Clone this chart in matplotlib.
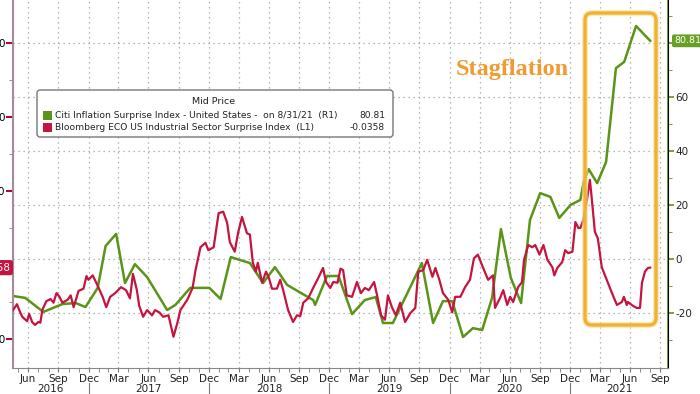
import pandas as pd
import numpy as np
import matplotlib
matplotlib.use("Agg")
import matplotlib.pyplot as plt
import matplotlib.dates as mdates
from matplotlib.patches import FancyBboxPatch, Rectangle
from matplotlib.transforms import blended_transform_factory

# Citi Inflation Surprise Index - United States (R1)
citi_dates = ['2016-05-15', '2016-06-21', '2016-08-15', '2016-10-12', '2016-11-21', '2016-12-21',
              '2017-01-27', '2017-02-20', '2017-03-24', '2017-04-20', '2017-05-20', '2017-06-26',
              '2017-08-26', '2017-09-20', '2017-11-04', '2018-01-01', '2018-02-04', '2018-03-07',
              '2018-05-04', '2018-06-13', '2018-07-19', '2018-08-25', '2018-11-12', '2018-11-18',
              '2018-12-24', '2019-01-28', '2019-03-10', '2019-04-18', '2019-05-21', '2019-06-12',
              '2019-07-12', '2019-10-08', '2019-11-11', '2019-12-11', '2020-01-08', '2020-02-10',
              '2020-03-11', '2020-04-08', '2020-05-08', '2020-06-04', '2020-07-04', '2020-08-04',
              '2020-08-31', '2020-10-01', '2020-11-01', '2020-11-28', '2021-01-01', '2021-01-31',
              '2021-02-10', '2021-02-25', '2021-03-23', '2021-04-19', '2021-05-19', '2021-06-13',
              '2021-07-19', '2021-08-31']
citi_vals = [-13.7, -14.4, -19.6, -16.7, -16.3, -17.8,
             -10.7, 4.8, 9.3, -8.9, -1.9, -6.7,
             -18.9, -17.0, -10.7, -10.7, -14.8, 0.7,
             -1.5, -8.9, -3.0, -9.6, -15.2, -17.0,
             -6.3, -6.3, -20.4, -15.2, -14.1, -23.7,
             -23.7, -1.5, -23.7, -15.6, -15.6, -28.9,
             -25.6, -26.3, -14.4, 11.1, -7.0, -16.3,
             14.4, 24.4, 23.0, 15.2, 20.0, 21.9,
             28.5, 33.3, 28.1, 35.9, 70.7, 73.0,
             86.3, 80.81]

# Bloomberg ECO US Industrial Sector Surprise Index (L1)
eco_dates = ['2016-05-15', '2016-05-27', '2016-06-03', '2016-06-12', '2016-06-27', '2016-07-03',
             '2016-07-12', '2016-07-21', '2016-07-31', '2016-08-06', '2016-08-12', '2016-08-24',
             '2016-09-06', '2016-09-15', '2016-09-24', '2016-10-03', '2016-10-12', '2016-10-28',
             '2016-11-06', '2016-11-15', '2016-11-30', '2016-12-15', '2016-12-24', '2016-12-30',
             '2017-01-12', '2017-01-27', '2017-02-11', '2017-02-22', '2017-03-06', '2017-03-21',
             '2017-04-08', '2017-04-23', '2017-05-05', '2017-05-14', '2017-05-26', '2017-06-02',
             '2017-06-14', '2017-06-26', '2017-07-11', '2017-07-20', '2017-08-02', '2017-08-14',
             '2017-08-30', '2017-09-14', '2017-09-26', '2017-10-05', '2017-10-26', '2017-11-11',
             '2017-11-20', '2017-12-05', '2017-12-20', '2017-12-29', '2018-01-14', '2018-01-29',
             '2018-02-12', '2018-02-24', '2018-03-04', '2018-03-19', '2018-03-29', '2018-04-10',
             '2018-04-25', '2018-05-04', '2018-05-13', '2018-05-22', '2018-05-28', '2018-06-10',
             '2018-06-22', '2018-07-01', '2018-07-10', '2018-07-25', '2018-08-04', '2018-08-13',
             '2018-08-28', '2018-09-12', '2018-09-24', '2018-10-04', '2018-10-13', '2018-10-28',
             '2018-11-12', '2018-11-27', '2018-12-12', '2018-12-21', '2019-01-03', '2019-01-12',
             '2019-01-25', '2019-02-03', '2019-02-11', '2019-02-22', '2019-03-10', '2019-03-25',
             '2019-04-06', '2019-04-18', '2019-04-30', '2019-05-16', '2019-05-25', '2019-06-06',
             '2019-06-18', '2019-06-27', '2019-07-09', '2019-07-21', '2019-08-03', '2019-08-18',
             '2019-09-03', '2019-09-18', '2019-09-27', '2019-10-12', '2019-10-24', '2019-11-09',
             '2019-11-18', '2019-11-30', '2019-12-11', '2019-12-27', '2020-01-08', '2020-01-17',
             '2020-02-02', '2020-02-16', '2020-03-02', '2020-03-14', '2020-03-26', '2020-04-11',
             '2020-04-26', '2020-05-11', '2020-05-17', '2020-06-01', '2020-06-11', '2020-06-23',
             '2020-07-02', '2020-07-11', '2020-07-26', '2020-08-07', '2020-08-13', '2020-08-26',
             '2020-09-07', '2020-09-16', '2020-09-29', '2020-10-11', '2020-10-23', '2020-11-07',
             '2020-11-13', '2020-11-22', '2020-12-07', '2020-12-16', '2020-12-25', '2021-01-07',
             '2021-01-16', '2021-01-25', '2021-01-31', '2021-02-09', '2021-02-20', '2021-03-01',
             '2021-03-07', '2021-03-16', '2021-03-25', '2021-04-06', '2021-04-21', '2021-05-07',
             '2021-05-22', '2021-06-06', '2021-06-12', '2021-06-21', '2021-06-24', '2021-07-09',
             '2021-07-21', '2021-07-31', '2021-08-06', '2021-08-15', '2021-08-24', '2021-08-31']
eco_vals = [-0.61, -0.53, -0.61, -0.70, -0.76, -0.66,
            -0.77, -0.81, -0.77, -0.78, -0.61, -0.49,
            -0.46, -0.51, -0.38, -0.43, -0.51, -0.47,
            -0.41, -0.57, -0.35, -0.32, -0.15, -0.20,
            -0.14, -0.28, -0.43, -0.57, -0.43, -0.38,
            -0.30, -0.34, -0.45, -0.12, -0.34, -0.55,
            -0.70, -0.61, -0.68, -0.61, -0.64, -0.70,
            -0.68, -0.97, -0.78, -0.61, -0.47, -0.31,
            -0.07, 0.24, 0.30, 0.20, 0.24, 0.70,
            0.72, 0.57, 0.31, 0.18, 0.43, 0.65,
            0.43, 0.41, 0.03, -0.09, 0.03, -0.24,
            -0.09, -0.18, -0.32, -0.32, -0.20, -0.34,
            -0.61, -0.77, -0.68, -0.69, -0.51, -0.45,
            -0.31, -0.18, -0.04, -0.23, -0.31, -0.23,
            -0.24, -0.05, -0.07, -0.41, -0.43, -0.23,
            -0.38, -0.31, -0.34, -0.23, -0.41, -0.68,
            -0.74, -0.41, -0.57, -0.68, -0.51, -0.77,
            -0.65, -0.58, -0.09, -0.07, 0.07, -0.16,
            -0.04, -0.20, -0.38, -0.47, -0.64, -0.43,
            -0.43, -0.30, -0.20, 0.09, 0.14, -0.04,
            -0.20, -0.14, -0.58, -0.45, -0.34, -0.54,
            -0.43, -0.50, -0.30, -0.23, 0.07, 0.27,
            0.24, 0.27, 0.14, 0.27, 0.07, -0.03,
            -0.14, -0.04, 0.04, 0.20, 0.16, 0.18,
            0.58, 0.50, 0.50, 0.61, 0.88, 1.15,
            0.88, 0.45, 0.36, -0.03, -0.20, -0.38,
            -0.54, -0.50, -0.43, -0.54, -0.50, -0.55,
            -0.58, -0.58, -0.24, -0.09, -0.04, -0.0358]

left_ticks = [-1, 0, 1, 2, 3]
right_ticks = [-20, 0, 20, 40, 60, 80]
years = [2016, 2017, 2018, 2019, 2020, 2021]

GREEN = '#5a9418'
RED = '#c41440'
ORANGE = '#f0b030'
W, H = 700, 394

plt.rcParams['font.family'] = ['DejaVu Sans']

fig = plt.figure(figsize=(W / 100, H / 100), dpi=100)
ax = fig.add_axes([13 / W, (H - 368) / H, (668 - 13) / W, 368 / H])
ax2 = ax.twinx()

citi_x = pd.to_datetime(citi_dates)
eco_x = pd.to_datetime(eco_dates)

ax2.plot(citi_x, citi_vals, color=GREEN, lw=1.8, zorder=3)
ax.plot(eco_x, eco_vals, color=RED, lw=1.6, zorder=3)
ax.set_zorder(ax2.get_zorder() + 1)
ax.patch.set_visible(False)

ax.set_xlim(pd.Timestamp('2016-05-15'), pd.Timestamp('2021-10-24'))
ax.set_ylim(-1.392, 3.581)
ax2.set_ylim(-40.37, 95.93)

# x axis: quarter labels at month ends, monthly minor ticks
qtr = pd.date_range('2016-06-30', '2021-09-30', freq='QE')
ax.set_xticks(qtr)
ax.xaxis.set_major_formatter(mdates.DateFormatter('%b'))
ax.set_xticks(pd.date_range('2016-05-31', '2021-09-30', freq='ME'), minor=True)
ax.tick_params(axis='x', which='both', direction='out', length=3, color='#777777',
               labelsize=7.5, pad=1.5, labelcolor='#222222')

# left axis (the 0 label sits under the last-value tag)
ax.set_yticks(left_ticks)
ax.set_yticklabels(['' if t == 0 else '%.1f' % t for t in left_ticks])
ax.set_yticks([-0.5, 0.5, 1.5, 2.5], minor=True)
ax.tick_params(axis='y', which='major', direction='out', length=5, width=1.5,
               color='#a01030', labelsize=7.5, pad=0.5)
ax.tick_params(axis='y', which='minor', direction='out', length=3, color='#a07080')

# right axis (the 80 label sits under the last-value tag)
ax2.set_yticks(right_ticks)
ax2.set_yticklabels(['' if t == 80 else str(t) for t in right_ticks])
ax2.set_yticks(np.arange(-30, 95, 20), minor=True)
ax2.tick_params(axis='y', which='major', direction='out', length=4, width=1.2,
                color=GREEN, labelsize=7.5, pad=1.5, labelcolor='#222222')
ax2.tick_params(axis='y', which='minor', direction='out', length=3, color=GREEN)

for a in (ax, ax2):
    a.spines['top'].set_visible(False)
ax.spines['left'].set_color('#a8889a')
ax.spines['left'].set_linewidth(1.5)
ax.spines['bottom'].set_color('#888888')
ax2.spines['right'].set_color(GREEN)
ax2.spines['right'].set_linewidth(1.2)
ax2.spines['left'].set_visible(False)
ax2.spines['bottom'].set_visible(False)

# dotted grid
for t in right_ticks:
    ax2.axhline(t, color='#a0a0a0', lw=0.9, ls=(0, (1, 3)), zorder=1)
for q in qtr:
    ax2.axvline(q, color='#a0a0a0', lw=0.9, ls=(0, (1, 3)), zorder=1)

# year labels and separators
tr = blended_transform_factory(ax.transData, ax.transAxes)
x0, x1 = ax.get_xlim()
for y in years:
    a = max(mdates.date2num(pd.Timestamp(f'{y - 1}-12-31')), x0)
    b = min(mdates.date2num(pd.Timestamp(f'{y}-12-31')), x1)
    ax.text((a + b) / 2, -0.057, str(y), transform=tr, ha='center', va='center',
            fontsize=7.5, color='#222222')
    if b < x1:
        ax.plot([b, b], [-0.042, -0.08], transform=tr, color='#777777', lw=0.8, clip_on=False)

# last value tags
ax.text(-0.004, eco_vals[-1], '%.4f' % eco_vals[-1],
        transform=blended_transform_factory(ax.transAxes, ax.transData),
        ha='right', va='center', fontsize=7.5, color='white',
        bbox=dict(boxstyle='round,pad=0.25', fc=RED, ec='none'), clip_on=False, zorder=6)
ax2.text(1.009, citi_vals[-1], '%.2f' % citi_vals[-1],
         transform=blended_transform_factory(ax2.transAxes, ax2.transData),
         ha='left', va='center', fontsize=6.8, color='white',
         bbox=dict(boxstyle='round,pad=0.2', fc='#66a025', ec='none'), clip_on=False, zorder=6)

# annotation box and label (pixel positions)
px = fig.dpi_scale_trans
fig.patches.append(FancyBboxPatch((585 / 100, (H - 325) / 100), 71 / 100, 312 / 100,
                                  boxstyle='round,pad=0,rounding_size=0.07', transform=px,
                                  fc='none', ec='#f8dc98', lw=4.5, alpha=0.6, zorder=5))
fig.patches.append(FancyBboxPatch((585 / 100, (H - 325) / 100), 71 / 100, 312 / 100,
                                  boxstyle='round,pad=0,rounding_size=0.07', transform=px,
                                  fc='none', ec=ORANGE, lw=2.4, zorder=5))
fig.text(512 / 100, (H - 70) / 100, 'Stagflation', transform=px, ha='center', va='center',
         fontsize=17.5, fontweight='bold', family='Liberation Serif', color='#f09a30')

# legend box
fig.patches.append(FancyBboxPatch((37 / 100, (H - 137) / 100), 356 / 100, 47 / 100,
                                  boxstyle='round,pad=0,rounding_size=0.03', transform=px,
                                  fc='white', ec='#777777', lw=1, zorder=4))
fig.text(214 / 100, (H - 102) / 100, 'Mid Price', transform=px, ha='center', va='center',
         fontsize=6.8, color='#222222', zorder=5)
fig.patches.append(Rectangle((43 / 100, (H - 120) / 100), 9 / 100, 9 / 100, transform=px,
                             fc=GREEN, ec='none', zorder=5))
fig.patches.append(Rectangle((43 / 100, (H - 132) / 100), 9 / 100, 9 / 100, transform=px,
                             fc=RED, ec='none', zorder=5))
fig.text(55 / 100, (H - 115) / 100, 'Citi Inflation Surprise Index - United States -  on 8/31/21  (R1)',
         transform=px, ha='left', va='center', fontsize=6.6, color='#222222', zorder=5)
fig.text(385 / 100, (H - 115) / 100, '%.2f' % citi_vals[-1], transform=px, ha='right', va='center',
         fontsize=6.6, color='#222222', zorder=5)
fig.text(55 / 100, (H - 127) / 100, 'Bloomberg ECO US Industrial Sector Surprise Index  (L1)',
         transform=px, ha='left', va='center', fontsize=6.6, color='#222222', zorder=5)
fig.text(385 / 100, (H - 127) / 100, '%.4f' % eco_vals[-1], transform=px, ha='right', va='center',
         fontsize=6.6, color='#222222', zorder=5)

fig.savefig('out.png', dpi=100)
